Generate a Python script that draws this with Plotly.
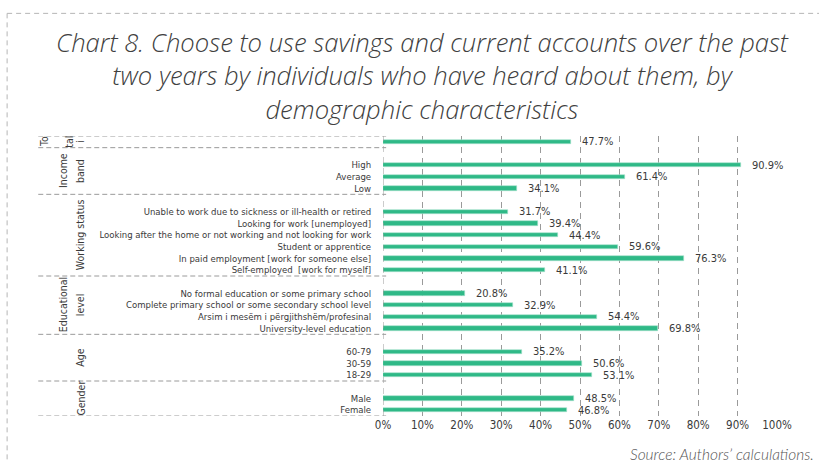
import plotly.graph_objects as go

# Survey results: share choosing to use savings and current accounts
groups = ["Total", "Income band", "Working status", "Educational level", "Age", "Gender"]

total_labels = [""]
total_values = [47.7]

income_labels = ["High", "Average", "Low"]
income_values = [90.9, 61.4, 34.1]

work_labels = [
    "Unable to work due to sickness or ill-health or retired",
    "Looking for work [unemployed]",
    "Looking after the home or not working and not looking for work",
    "Student or apprentice",
    "In paid employment [work for someone else]",
    "Self-employed  [work for myself]",
]
work_values = [31.7, 39.4, 44.4, 59.6, 76.3, 41.1]

edu_labels = [
    "No formal education or some primary school",
    "Complete primary school or some secondary school level",
    "Arsim i mesëm i përgjithshëm/profesinal",
    "University-level education",
]
edu_values = [20.8, 32.9, 54.4, 69.8]

age_labels = ["60-79", "30-59", "18-29"]
age_values = [35.2, 50.6, 53.1]

gender_labels = ["Male", "Female"]
gender_values = [48.5, 46.8]

x_ticks = [0, 10, 20, 30, 40, 50, 60, 70, 80, 90, 100]

title_lines = [
    "Chart 8. Choose to use savings and current accounts over the past",
    "two years by individuals who have heard about them, by",
    "demographic characteristics",
]

GREEN = "#2fb987"
TEXT = "#3a3a3a"
FONT = "DejaVu Sans Condensed, DejaVu Sans, sans-serif"

# Lay the groups out top to bottom with one empty slot between them
blocks = [
    (total_labels, total_values),
    (income_labels, income_values),
    (work_labels, work_values),
    (edu_labels, edu_values),
    (age_labels, age_values),
    (gender_labels, gender_values),
]
ys, xs, labels = [], [], []
bounds = []  # (top, bottom) of each group block, gap slot included
pos = 0
for i, (lab, val) in enumerate(blocks):
    top = pos - 0.5 if i == 0 else pos - 1.5
    for l, v in zip(lab, val):
        ys.append(pos)
        xs.append(v)
        labels.append(l)
        pos += 1
    bounds.append((top, pos - 0.5))
    pos += 1
y_max = ys[-1] + 0.5

fig = go.Figure()
fig.add_trace(go.Bar(
    x=xs, y=ys, orientation="h", width=0.38,
    marker=dict(color=GREEN, line=dict(color="#a8e3cc", width=0.6)),
    hoverinfo="skip",
))

# value labels at bar ends
for x, y in zip(xs, ys):
    fig.add_annotation(
        x=x, y=y, xref="x", yref="y", text=f"{x:.1f}%", showarrow=False,
        xanchor="left", yanchor="middle", xshift=9,
        font=dict(family=FONT, size=11, color=TEXT),
    )

LEFT = -0.875  # left end of the group brackets, in plot-width units
dash = dict(color="#9a9a9a", width=1, dash="5px,3px")
shapes = []
edges = sorted({b for pair in bounds for b in pair})
for e in edges:
    shapes.append(dict(type="line", xref="paper", yref="y", x0=LEFT, x1=0.008,
                       y0=e, y1=e, line=dash))

# outer dashed frame (top and left edges)
frame = dict(color="#b5b5b5", width=1, dash="5px,4px")
shapes.append(dict(type="line", xref="paper", yref="paper", x0=-0.954, x1=1.2,
                   y0=1.438, y1=1.438, line=frame))
shapes.append(dict(type="line", xref="paper", yref="paper", x0=-0.954, x1=-0.954,
                   y0=1.438, y1=-0.2, line=frame))

# rotated group names
gfont = dict(family=FONT, size=10.5, color=TEXT)
group_lines = [
    [("To", -0.86), ("tal", -0.797), ("i", -0.769)],
    [("Income", -0.812), ("band", -0.769)],
    [("Working status", -0.769)],
    [("Educational", -0.812), ("level", -0.769)],
    [("Age", -0.769)],
    [("Gender", -0.769)],
]
for (top, bot), lines in zip(bounds, group_lines):
    for txt, gx in lines:
        fig.add_annotation(
            x=gx, y=(top + bot) / 2, xref="paper", yref="y", text=txt,
            textangle=-90, showarrow=False, xanchor="center", yanchor="middle",
            font=gfont,
        )

# chart title
fig.add_annotation(
    x=0.099, y=1.214, xref="paper", yref="paper",
    text="<i>" + "<br>".join(title_lines) + "</i>",
    showarrow=False, xanchor="center", yanchor="middle", align="center",
    font=dict(family="Open Sans", size=25.6, color="#404040", weight=300),
)

fig.add_annotation(
    x=1.1, y=-0.135, xref="paper", yref="paper",
    text="<i>Source: Authors’ calculations.</i>", showarrow=False,
    xanchor="right", yanchor="middle",
    font=dict(family="Lato", size=15.5, color="#555555", weight=300),
)

fig.update_layout(
    width=819, height=462,
    margin=dict(l=383, r=42, t=136, b=46),
    paper_bgcolor="white", plot_bgcolor="white",
    showlegend=False, bargap=0,
    shapes=shapes,
    xaxis=dict(
        range=[0, 100], tickvals=x_ticks, ticktext=[f"{t}%" for t in x_ticks],
        showgrid=True, gridcolor="#9a9a9a", griddash="6px,5px", gridwidth=1,
        zeroline=False, showline=False,
        tickfont=dict(family=FONT, size=11.5, color=TEXT),
        ticks="", fixedrange=True,
    ),
    yaxis=dict(
        range=[y_max, -0.5], tickvals=ys, ticktext=labels,
        tickfont=dict(family=FONT, size=9.5, color=TEXT),
        ticks="outside", ticklen=9, tickcolor="rgba(0,0,0,0)",
        showgrid=False, zeroline=False, showline=False,
    ),
)
# dashed axis line at 0%
fig.add_shape(type="line", xref="x", yref="paper", x0=0, x1=0, y0=0, y1=1,
              line=dict(color="#9a9a9a", width=1, dash="6px,5px"))

fig.write_html("out.html")
